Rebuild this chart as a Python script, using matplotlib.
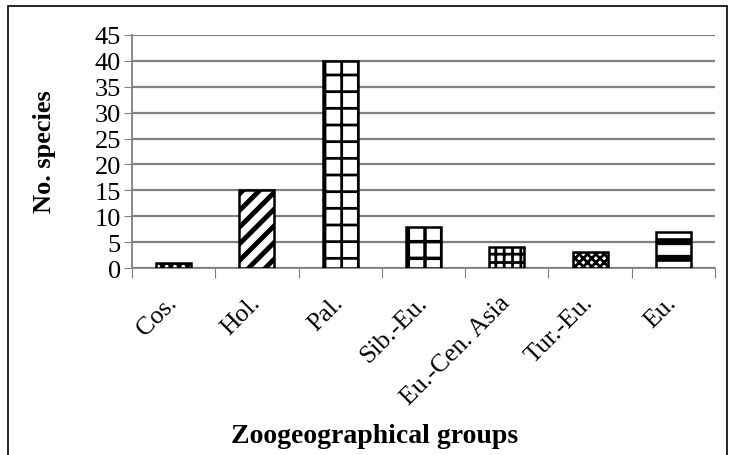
import matplotlib
matplotlib.use("Agg")
import matplotlib.pyplot as plt
from matplotlib.patches import Rectangle

categories = ["Cos.", "Hol.", "Pal.", "Sib.-Eu.", "Eu.-Cen. Asia", "Tur.-Eu.", "Eu."]
values = [1, 15, 40, 8, 4, 3, 7]
y_ticks = [0, 5, 10, 15, 20, 25, 30, 35, 40, 45]

# style per bar: (facecolor, hatch, hatch colour, hatch linewidth)
styles = [
    ("black", "..", "white", 1.5),
    ("white", "//", "black", 3.5),
    ("white", "+", "black", 2.0),
    ("white", "+", "black", 2.5),
    ("white", "++", "black", 2.0),
    ("white", "xxxx", "black", 2.0),
    ("white", "-", "black", 5.0),
]

plt.rcParams['font.family'] = ['Liberation Serif', 'DejaVu Serif']

W, H = 733, 456
fig = plt.figure(figsize=(W/100, H/100), dpi=100)
ax = fig.add_axes([132/W, 1-269/H, (715-132)/W, (269-36)/H])

bw = 0.42
for i, (v, (fc, hatch, hc, hlw)) in enumerate(zip(values, styles)):
    with plt.rc_context({'hatch.linewidth': hlw}):
        b = ax.bar([i], [v], width=bw, color=fc, edgecolor=hc, linewidth=0, hatch=hatch, zorder=3)[0]
        if hasattr(b, 'set_hatch_linewidth'):
            b.set_hatch_linewidth(hlw)
    ax.bar([i], [v], width=bw, fill=False, edgecolor='black', linewidth=1.8, zorder=4)

ax.set_xlim(-0.5, len(categories)-0.5)
ax.set_ylim(0, 45)
ax.set_yticks(y_ticks)
ax.set_yticklabels([str(v) for v in y_ticks], fontsize=19)
ax.yaxis.grid(True, color='#808080', linewidth=1.6, zorder=0)
ax.set_axisbelow(True)
for s in ['top', 'right']:
    ax.spines[s].set_visible(False)
for s in ['left', 'bottom']:
    ax.spines[s].set_color('#808080')
    ax.spines[s].set_linewidth(1.3)
ax.tick_params(axis='y', length=6, color='#808080', pad=2)

ax.set_xticks([i + 0.5 for i in range(-1, len(categories))], minor=False)
ax.set_xticklabels([])
ax.tick_params(axis='x', which='major', length=7, color='#808080')
ax.set_xticks(list(range(len(categories))), minor=True)
ax.set_xticklabels(categories, minor=True, rotation=45, ha='right', va='center',
                   rotation_mode='anchor', fontsize=18.5)
ax.tick_params(axis='x', which='minor', length=0, pad=22)

fig.text(44/W, 1-152/H, "No. species", rotation=90, ha='center', va='center', fontsize=19, fontweight='bold')
fig.text(375/W, 1-437/H, "Zoogeographical groups", ha='center', va='center', fontsize=20, fontweight='bold')

fig.patches.append(Rectangle((8/W, -0.05), (727-8)/W, 1.05-7/H, transform=fig.transFigure,
                             fill=False, edgecolor='black', linewidth=1.2))

fig.savefig("out.png", dpi=100)
